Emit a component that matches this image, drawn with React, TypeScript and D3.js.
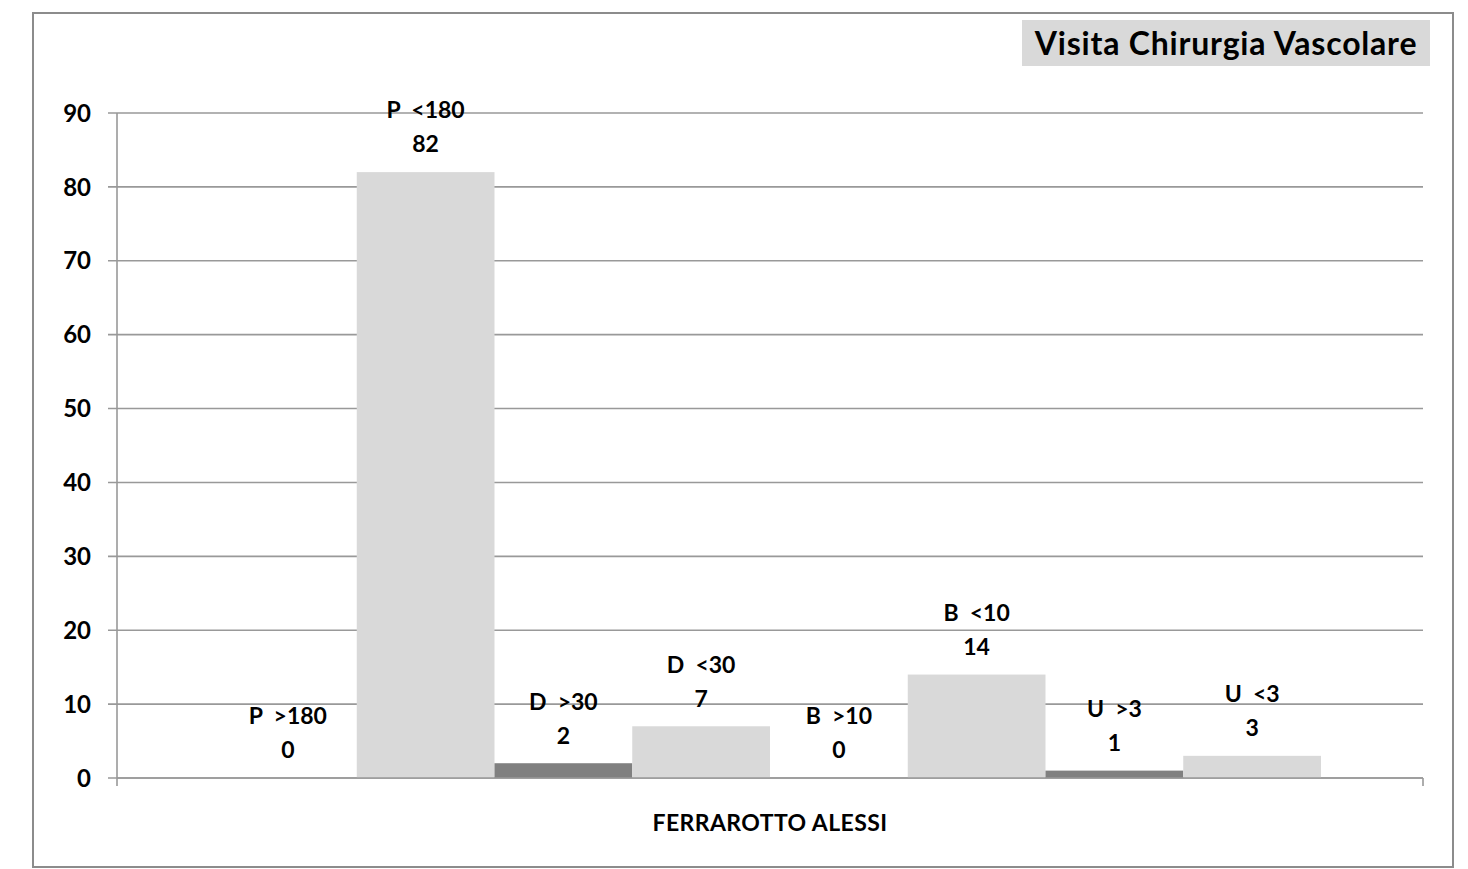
import React from "react";
import * as d3 from "d3";

const seriesNames = ["P  >180", "P  <180", "D  >30", "D  <30", "B  >10", "B  <10", "U  >3", "U  <3"];
const seriesValues = [0, 82, 2, 7, 0, 14, 1, 3];
const seriesDark = [true, false, true, false, true, false, true, false];
const category = "FERRAROTTO ALESSI";
const yTicks = [0, 10, 20, 30, 40, 50, 60, 70, 80, 90];
const title = "Visita Chirurgia Vascolare";

const W = 1468;
const H = 869;
const plot = { left: 117, right: 1423, top: 113, bottom: 778 };
const FONT = "Lato, 'Open Sans', sans-serif";

export default function App() {
  const y = d3.scaleLinear().domain([0, 90]).range([plot.bottom, plot.top]);
  const x = d3
    .scaleBand<number>()
    .domain(d3.range(seriesValues.length))
    .range([plot.left + 102, plot.right - 102])
    .paddingInner(0)
    .paddingOuter(0);

  return (
    <svg
      width={W}
      height={H}
      style={{ position: "absolute", left: 0, top: 0, background: "#fff" }}
    >
      <rect x={33} y={13} width={1420} height={854} fill="#fff" stroke="#8c8c8c" strokeWidth={2} />
      {yTicks.map((t) => (
        <g key={t}>
          <line x1={plot.left - 9} x2={plot.right} y1={y(t)} y2={y(t)} stroke="#999" strokeWidth={1.6} />
          <text
            x={91}
            y={y(t)}
            dy="0.36em"
            textAnchor="end"
            fontFamily={FONT}
            fontWeight={700}
            fontSize={24}
            fill="#000"
          >
            {t}
          </text>
        </g>
      ))}
      <line x1={plot.left} x2={plot.left} y1={plot.top} y2={plot.bottom + 8} stroke="#999" strokeWidth={1.6} />
      <line x1={plot.right} x2={plot.right} y1={plot.bottom} y2={plot.bottom + 8} stroke="#999" strokeWidth={1.6} />
      {seriesValues.map((v, i) => (
        <rect
          key={i}
          x={x(i)!}
          width={x.bandwidth()}
          y={y(v)}
          height={plot.bottom - y(v)}
          fill={seriesDark[i] ? "#808080" : "#d9d9d9"}
        />
      ))}
      <line x1={plot.left} x2={plot.right} y1={plot.bottom} y2={plot.bottom} stroke="#999" strokeWidth={1.6} />
      {seriesValues.map((v, i) => {
        const cx = x(i)! + x.bandwidth() / 2;
        return (
          <g key={i} fontFamily={FONT} fontWeight={700} fontSize={23} fill="#000" textAnchor="middle">
            <text x={cx} y={y(v) - 62} dy="0.36em" style={{ whiteSpace: "pre" }}>
              {seriesNames[i]}
            </text>
            <text x={cx} y={y(v) - 28} dy="0.36em">
              {v}
            </text>
          </g>
        );
      })}
      <text
        x={(plot.left + plot.right) / 2}
        y={823}
        dy="0.36em"
        textAnchor="middle"
        fontFamily={FONT}
        fontWeight={700}
        fontSize={23}
        letterSpacing={0.4}
        fill="#000"
      >
        {category}
      </text>
      <rect x={1022} y={20} width={408} height={46} fill="#d9d9d9" />
      <text
        x={1226}
        y={43}
        dy="0.36em"
        textAnchor="middle"
        fontFamily={FONT}
        fontWeight={700}
        fontSize={32}
        letterSpacing={0.8}
        fill="#000"
      >
        {title}
      </text>
    </svg>
  );
}
